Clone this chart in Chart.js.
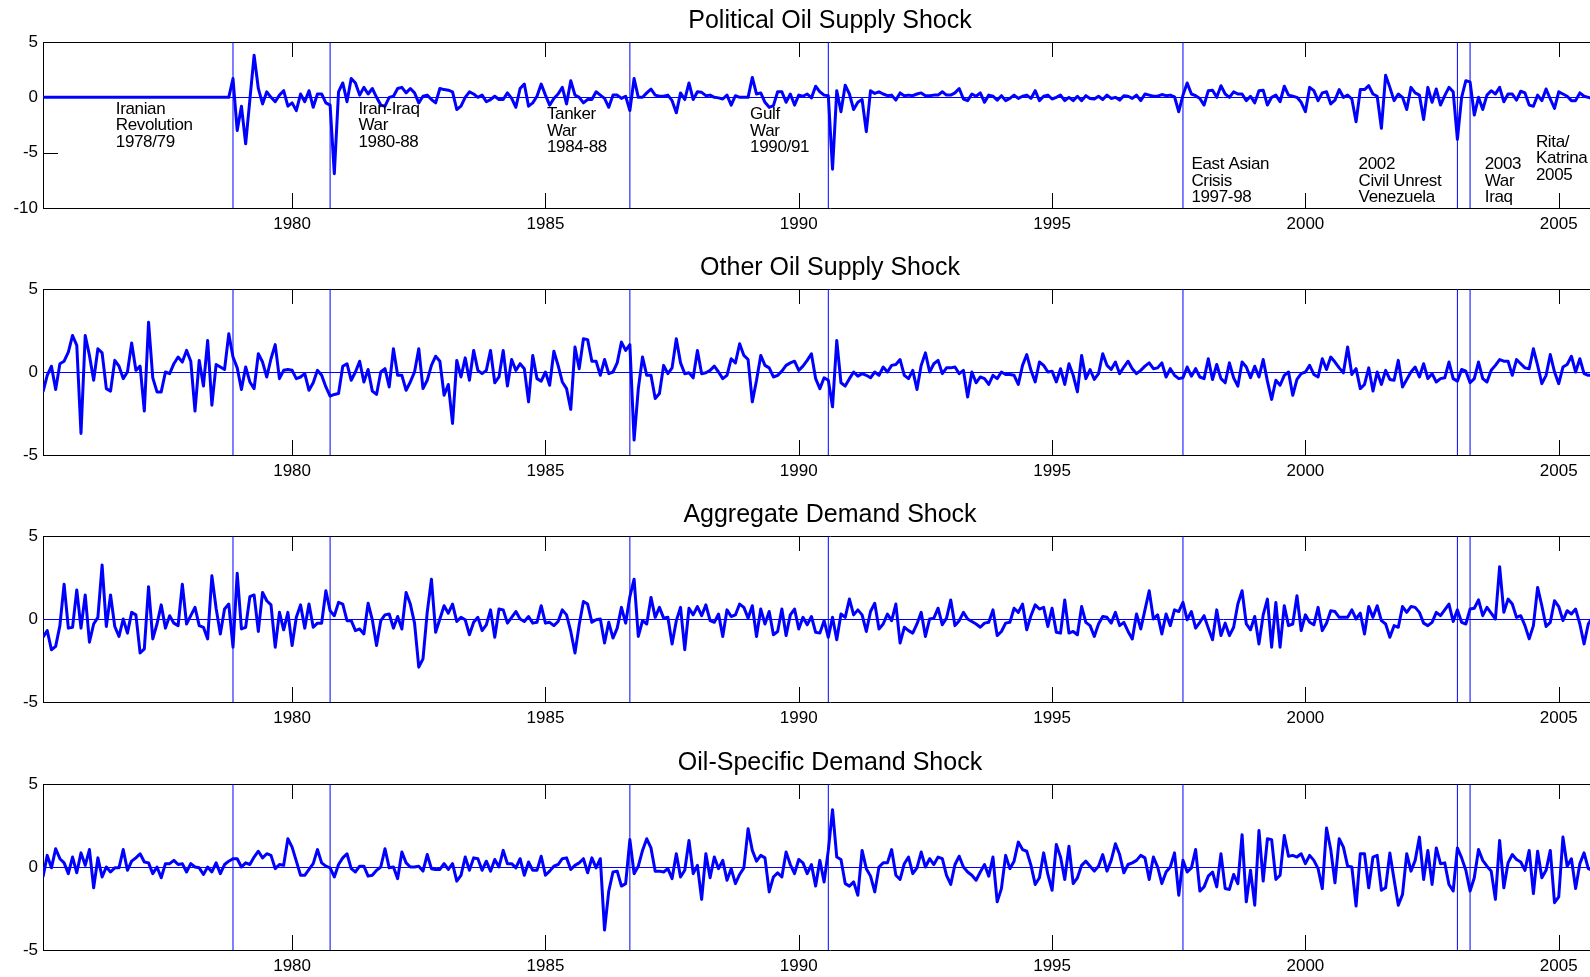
<!DOCTYPE html>
<html>
<head>
<meta charset="utf-8">
<script src="https://cdn.jsdelivr.net/npm/chart.js@4.4.1/dist/chart.umd.min.js"></script>
<style>
  html, body { margin: 0; padding: 0; background: #fff; overflow: hidden; width: 1590px; height: 977px; }
  #wrap { position: relative; width: 1590px; height: 977px; overflow: hidden; }
  #wrap canvas { position: absolute; left: 0; }
</style>
</head>
<body>
<div id="wrap">
  <canvas id="p0" width="1660" height="247" style="top:0px"></canvas>
  <canvas id="p1" width="1660" height="247" style="top:247px"></canvas>
  <canvas id="p2" width="1660" height="247" style="top:494px"></canvas>
  <canvas id="p3" width="1660" height="247" style="top:742px"></canvas>
</div>
<script>
// Monthly structural shocks, first observation February 1975 (one row per calendar year)
const firstYear = 1975;
const firstMonth = 2;

const political = [
  0, 0, 0, 0, 0, 0, 0, 0, 0, 0, 0,
  0, 0, 0, 0, 0, 0, 0, 0, 0, 0, 0, 0,
  0, 0, 0, 0, 0, 0, 0, 0, 0, 0, 0, 0,
  0, 0, 0, 0, 0, 0, 0, 0, 0, 0, 1.7, -3.0,
  -0.8, -4.2, -0.2, 3.8, 0.8, -0.6, 0.5, 0, -0.4, 0.2, 0.6, -0.8,
  -0.5, -1.2, 0.3, -0.4, 0.6, -0.9, 0.3, 0.3, -0.5, -0.7, -6.9, 0.5,
  1.3, -0.4, 1.7, 1.3, 0.2, 0.9, 0.3, 0.8, 0, -0.7, -0.8, 0,
  0.1, 0.8, 0.9, 0.4, 0.8, 0.4, -0.5, 0.1, 0.2, -0.2, -0.5, 0.8,
  0.7, 0.65, 0.5, -1.1, -0.8, 0, 0.5, 0.3, 0, 0.2, -0.4, -0.2,
  0.1, -0.2, -0.2, 0.4, -0.1, -0.9, 0.8, 1.2, -0.8, -0.5, 0.1, 1.2,
  0.2, -0.7, -0.1, 0.3, 0.9, -0.6, 1.5, 0.2, 0, -0.5, -0.2, -0.2,
  0.5, 0.2, -0.1, -0.9, 0.2, 0.2, -0.1, 0.1, -1.2, 1.7, 0, 0,
  0.4, 0.75, 0.2, 0.1, 0.1, 0.2, -0.3, -1.4, 0.4, -0.2, 1.3, -0.2,
  0.5, 0.45, 0.15, 0.2, 0, -0.05, -0.15, 0.2, -0.7, 0.15, 0, 0,
  0, 1.8, 0.3, 0.4, -0.45, -0.9, -0.75, 0.5, 0.5, -0.45, 0.3, -0.7,
  0.2, 0.1, 0.3, -0.05, 1.0, 0.5, 0.2, 0.15, -6.5, 0.6, -1.3, 1.1,
  0.3, -1.1, -0.45, -0.2, -3.1, 0.6, 0.35, 0.5, 0.3, 0.15, 0.2, -0.25,
  0.4, 0.15, 0.2, 0.15, 0.3, 0.4, 0.15, 0.15, 0.2, 0.2, 0.5, 0.2,
  0.2, 0.4, 0.8, -0.15, -0.3, 0.3, 0.1, 0.4, -0.45, 0.2, 0.1, -0.25,
  0.15, -0.3, -0.1, 0.2, -0.1, 0.1, 0.2, -0.1, 0.6, -0.3, 0.1, 0.2,
  -0.15, 0, 0.2, -0.3, 0, -0.3, 0.1, -0.3, 0.15, -0.1, -0.15, 0.1,
  -0.2, 0.2, -0.1, 0, -0.25, 0.15, 0.1, -0.1, 0.2, -0.3, 0.3, 0.2,
  0.1, 0.1, 0.25, 0.15, 0.2, 0.05, -1.3, 0.2, 1.3, 0.3, 0.15, -0.1,
  -0.7, 0.6, 0.65, 0, 1.05, 0.3, 0, 0.5, 0.3, 0.3, -0.3, 0.1,
  -0.5, 0.6, 0.65, -0.7, 0, 0.2, -0.4, 1.0, 0.2, 0.1, 0, -0.45,
  -1.3, 0.9, 0.6, -0.3, 0.4, 0.5, -0.6, -0.25, 0.7, 0, 0.2, -0.15,
  -2.2, 0.7, 0.7, 1.05, 0.3, 0.1, -2.8, 2.0, 0.9, -0.3, 0.3, 0,
  -1.1, 0.9, 0.4, 0.2, -2.0, 0.9, -0.45, 0.75, -0.7, 0.15, 0.9, 0.5,
  -3.8, 0, 1.5, 1.4, -1.6, 0, -1.1, 0.2, 0.6, 0.3, 0.9, -0.4,
  0.3, 0.3, -0.25, 0.55, 0.4, -0.7, -0.8, 0.2, -0.3, 0.75, -0.15, -1.0,
  0.5, 0.3, 0.1, -0.3, -0.3, 0.4, 0.1, 0, -0.1
];

const otherSupply = [
  -1.2, -0.2, 0.35, -1.05, 0.5, 0.65, 1.2, 2.2, 1.6, -3.7, 2.2,
  1.0, -0.5, 1.4, 1.15, -1.0, -1.15, 0.7, 0.35, -0.4, 0, 1.75, 0.1,
  0.35, -2.35, 3.0, -0.35, -1.2, -1.2, 0, -0.1, 0.5, 0.9, 0.6, 1.3,
  0.65, -2.35, 0.7, -0.85, 1.9, -2.0, 0.45, 0.3, 0.15, 2.3, 0.9, 0.25,
  -1.05, 0.3, -0.6, -1.0, 1.1, 0.6, -0.3, 0.8, 1.65, -0.4, 0.1, 0.15,
  0.1, -0.4, -0.3, -0.1, -1.1, -0.65, 0.1, -0.2, -0.9, -1.45, -1.35, -1.3,
  0.35, 0.5, -0.5, 0, 0.65, -0.6, 0.15, -1.15, -1.35, 0, 0.2, -0.9,
  1.4, -0.2, -0.2, -1.1, -0.6, 0, 1.4, -1.0, -0.5, 0.4, 0.95, 0.65,
  -1.4, -0.75, -3.1, 0.7, -0.3, 0.85, -0.5, 1.3, 0.1, -0.1, 0.1, 1.3,
  -0.65, -0.3, 1.3, -0.85, 0.75, 0.1, 0.5, 0.2, -1.8, 1.0, -0.4, -0.55,
  0, -0.8, 1.25, 0.4, -0.6, -1.0, -2.25, 1.5, 0.2, 2.0, 1.95, 0.65,
  0.65, -0.2, 0.75, -0.1, 0, 0.55, 1.8, 1.3, 1.65, -4.1, -1.0, 0.9,
  -0.2, -0.2, -1.6, -1.3, 0.4, -0.1, 0.25, 2.0, 0.55, -0.1, -0.05, -0.35,
  1.3, -0.1, -0.05, 0.1, 0.35, 0, -0.4, -0.2, 0.8, 0.55, 1.7, 1.0,
  0.75, -1.8, -0.5, 1.0, 0.4, 0.25, -0.3, -0.2, 0.05, 0.4, 0.55, 0.65,
  0.1, 0.35, 0.7, 1.1, -0.4, -1.0, -0.35, -0.5, -2.1, 1.9, -0.65, -0.85,
  -0.4, 0, -0.25, -0.1, -0.2, -0.35, 0, -0.2, 0.3, 0, 0.4, 0.45,
  0.75, -0.2, -0.4, 0.1, -1.05, 0.4, 1.15, 0, 0.5, 0.7, -0.1, 0.25,
  0.25, 0.3, -0.1, 0.1, -1.5, 0, -0.65, -0.3, -0.4, -0.75, -0.2, -0.4,
  0, -0.15, -0.15, -0.2, -0.75, 0.4, 1.05, 0.1, -0.6, 0.6, 0.4, 0,
  0.05, -0.6, 0.2, -0.75, 0.5, -0.2, -1.2, 1.0, -0.4, 0.15, -0.45, -0.1,
  1.1, 0.4, 0.15, 0.6, -0.1, 0.3, 0.65, 0.2, -0.1, 0.1, 0.35, 0.55,
  0.2, 0.25, 0.55, -0.3, 0.2, -0.2, -0.4, -0.35, 0.3, -0.25, 0.2, -0.3,
  -0.4, 0.8, -0.45, 0.45, -0.4, -0.65, 0.55, -0.35, -0.85, 0.6, 0.3, -0.35,
  0.35, -0.3, 0.75, -0.55, -1.65, -0.5, -0.8, -0.2, 0, -1.4, -0.45, -0.1,
  0, 0.4, -0.15, -0.3, 0.8, 0.15, 0.9, 0.6, 0.25, -0.05, 1.5, -0.15,
  0.2, -1.0, -0.75, 0.25, -1.15, 0, -0.75, 0.1, -0.45, -0.5, 0.7, -0.9,
  -0.45, 0, 0.3, -0.3, 0.5, -0.4, -0.1, -0.6, -0.4, -0.35, 0.6, -0.4,
  -0.55, 0.15, 0.05, -0.65, -0.4, 0.6, -0.4, -0.6, 0.1, 0.4, 0.75, 0.65,
  0.65, -0.2, 0.75, 0.5, 0.25, 0.2, 1.4, 0.4, -0.7, -0.2, 1.05, 0,
  -0.7, 0.3, 0.45, 0.95, 0, 0.8, -0.1, -0.2, -0.2
];

const aggregateDemand = [
  -1.1, -0.7, -1.85, -1.65, -0.4, 2.1, -0.55, -0.5, 1.75, -0.55, 1.45,
  -1.4, -0.3, 0.1, 3.25, -0.45, 1.45, -0.45, -1.05, 0, -0.85, 0.4, 0.25,
  -2.05, -1.8, 1.95, -1.2, -0.3, 0.85, -0.55, 0.2, -0.25, -0.4, 2.1, -0.3,
  0.2, 0.7, -0.4, -0.5, -1.2, 2.6, 0.65, -0.9, 0.6, 0.9, -1.7, 2.75,
  -0.6, -0.5, 1.35, 1.45, -0.75, 1.6, 1.1, 0.85, -1.7, 0.4, -0.65, 0.4,
  -1.6, 0.1, 0.85, -0.55, 0.9, -0.5, -0.25, -0.25, 1.7, 0.5, 0.2, 1.0,
  0.9, -0.1, -0.1, -0.7, -0.6, -0.9, 0.95, -0.05, -1.6, -0.1, 0.25, 0.3,
  -0.55, 0.15, -0.6, 1.6, 0.9, -0.25, -2.9, -2.4, 0.4, 2.4, -0.8, 0,
  0.8, 0.35, 0.9, -0.15, 0.1, -0.05, -0.95, -0.2, 0.1, -0.7, -0.35, 0.55,
  -1.1, 0.6, 0.55, -0.25, 0.1, 0.45, 0, -0.15, 0.15, -0.25, -0.2, 0.8,
  -0.25, -0.2, -0.4, -0.15, 0.55, 0.25, -0.75, -2.05, -0.35, 1.05, 0.9, -0.2,
  -0.05, 0, -1.45, -0.2, -1.15, -0.55, 0.7, -0.25, 1.35, 2.4, -1.05, -0.1,
  -0.3, 1.3, 0.1, 0.7, 0.05, 0.1, -1.5, -0.1, 0.7, -1.85, 0.65, 0.25,
  0.75, 0.2, 0.85, -0.1, -0.2, 0.3, -1.05, 0.55, 0.15, 0.25, 0.9, 0.7,
  0.05, 0.8, -1.05, 0.6, -0.3, 0.45, -0.95, -0.75, 0.6, -1.0, 0.25, 0.6,
  -0.6, 0.1, -0.35, 0.15, -0.8, -0.85, -0.1, -1.1, 0.1, -1.25, 0.3, 0.1,
  1.2, 0.25, 0.55, 0.25, -0.75, 0.45, 0.95, -0.6, -0.3, 0.3, -0.1, 0.9,
  -1.45, -0.5, -0.7, -0.85, -0.3, 0.4, -1.05, 0, 0.05, 0.65, -0.35, 0.05,
  1.15, -0.4, -0.1, 0.4, 0, -0.15, -0.3, -0.5, -0.25, -0.2, 0.55, -1.0,
  -0.75, -0.25, -0.2, 0.65, 0.4, 0.9, -0.65, 0.2, 0.85, 0.6, 0.7, -0.45,
  0.65, -0.8, -0.85, 1.15, -0.85, -0.75, -0.95, 0.75, -0.2, -0.4, -1.05, -0.3,
  0.15, 0.1, -0.25, 0.4, -0.4, -0.2, -0.75, -1.2, 0.3, -0.6, 0.55, 1.7,
  0, 0.25, -0.9, 0.3, -0.4, 0.55, 0.45, 1.0, -0.05, 0.45, -0.55, -0.2,
  0.2, -0.55, -1.25, 0.55, -1.0, -0.25, -1.0, -0.5, 0.9, 1.7, -0.3, -0.65,
  0.15, -1.5, 0.25, 1.2, -1.7, 1.0, -1.7, 0.8, -0.4, -0.3, 1.4, -0.7,
  0.25, -0.2, -0.35, 0.7, -0.7, -0.25, 0.5, 0.45, 0.1, 0.1, 0.1, 0.55,
  0, 0.35, -0.9, 0.75, 0.1, 0.8, -0.1, -0.3, -1.1, -0.4, -0.5, 0.75,
  0.4, 0.75, 0.7, 0.4, -0.25, -0.4, -0.2, 0.4, 0.2, 0.55, 0.9, -0.15,
  0.55, -0.2, -0.3, 0.6, 0.65, 1.15, 0.2, 0.7, 0.35, 0, 3.15, 0.4,
  1.2, 0.9, 0.1, 0.2, -0.4, -1.2, -0.4, 1.9, 0.8, -0.45, -0.2, 1.1,
  0.75, -0.1, 0.5, 0.3, 0.6, -0.3, -1.5, -0.3, 0.1
];

const oilSpecificDemand = [
  -0.6, 0.7, -0.05, 1.1, 0.5, 0.25, -0.4, 0.6, -0.35, 0.85, 0.1,
  1.05, -1.25, 0.55, -0.6, 0, -0.3, -0.05, -0.05, 1.05, -0.2, 0.35, 0.55,
  0.8, 0.3, 0.25, -0.4, 0, -0.65, 0.2, 0.2, 0.4, 0.15, 0.2, -0.3,
  0.2, 0, -0.05, -0.45, 0, -0.3, 0.25, -0.4, 0.15, 0.35, 0.5, 0.5,
  0, 0.25, 0.15, 0.6, 0.95, 0.55, 0.8, 0.7, -0.1, 0.15, 0.1, 1.7,
  1.2, 0.35, -0.5, -0.5, -0.15, 0.2, 1.05, 0.25, 0.05, -0.05, -0.6, 0.15,
  0.55, 0.8, -0.1, -0.3, 0.05, 0.05, -0.55, -0.5, -0.2, 0, 1.1, -0.05,
  0, -0.7, 0.9, 0.25, 0, 0, 0.05, -0.25, 0.75, -0.1, -0.15, -0.15,
  0.2, -0.15, 0.2, -0.85, -0.5, 0.6, -0.2, 0.55, 0.5, -0.2, 0.35, -0.25,
  0.45, 0, 1.0, 0.2, 0.2, -0.05, 0.5, -0.5, 0.3, -0.2, -0.2, 0.65,
  -0.5, -0.25, 0.05, 0.15, 0.5, 0.55, -0.15, 0.1, 0.25, 0.5, -0.35, 0.55,
  -0.05, 0.5, -3.8, -1.45, -0.3, -0.25, -1.15, -1.0, 1.65, -0.4, 0.05, 1.0,
  1.7, 1.15, -0.25, -0.25, -0.3, -0.1, -0.7, 0.8, -0.6, -0.2, 1.6, -0.4,
  0.1, -1.95, 0.8, -0.65, 0.6, -0.1, 0.4, -0.8, -0.1, -1.0, -0.45, -0.05,
  2.3, 1.0, 0.35, 0.7, 0.55, -1.5, -0.6, -0.35, -0.6, 0.9, 0.15, -0.4,
  0.45, 0.25, -0.4, 0.15, -1.15, 0.4, -0.9, 1.0, 3.45, 0.6, 0.45, -1.0,
  -1.15, -0.9, -1.7, 1.0, -0.1, -0.55, -1.5, 0, 0.25, 0.25, 1.05, -0.5,
  -0.75, 0.2, 0.6, -0.4, -0.05, 0.9, 0, 0.5, 0.15, 0.6, 0.5, -0.5,
  -1.05, 0.15, 0.65, 0, -0.3, -0.5, -0.8, -0.3, 0.15, -0.55, 0.6, -2.1,
  -1.3, 0.7, -0.1, 0.35, 1.5, 1.05, 0.95, 0.1, -1.05, -0.65, 0.85, -0.45,
  -1.4, 1.35, 0.6, -0.75, 1.25, -1.0, -0.65, 0.1, 0.35, 0.05, -0.25, 0.05,
  0.75, -0.25, 0.4, 1.4, 0.75, -0.35, 0.15, 0.25, 0.4, 0.7, 0.55, -0.75,
  0.6, 0, -1.0, -0.3, 0, 0.85, -1.7, 0.4, -0.3, -0.05, 1.05, -1.45,
  -1.2, -0.55, -0.3, -1.2, 0.8, -1.3, -1.35, -0.45, -1.0, 1.95, -2.1, -0.2,
  -2.3, 2.2, -0.85, 1.7, 1.65, -0.75, -0.5, 1.9, 0.65, 0.7, 0.6, 0.8,
  0.2, 0.7, 0.4, -0.1, -1.3, 2.35, 1.05, -0.95, 1.7, 1.2, 0.05, 0,
  -2.35, 0.8, 0.8, -1.25, 0.6, 0.7, -1.4, -1.25, 0.85, -0.75, -2.3, -1.65,
  0.8, -0.25, 0.4, 1.8, -0.75, 1.0, -1.05, 1.15, 0.2, 0.25, -1.05, -1.45,
  1.15, 0.55, -0.2, -1.45, -0.65, 1.05, 0.4, 0.05, -0.25, -1.95, 1.6, -1.25,
  0.25, 0.75, 0.45, 0.3, -0.2, 1.0, -1.6, 0.95, -0.65, -0.2, 1.0, -2.15,
  -1.8, 1.8, 0.05, 0.5, -1.3, 0.2, 0.85, -0.1, -0.2
];

// Year ticks on the time axis and value ticks on the vertical axes
const yearTicks = [1980, 1985, 1990, 1995, 2000, 2005];
const wideTicks = [-10, -5, 0, 5];
const narrowTicks = [-5, 0, 5];

// Event months marked with vertical lines: [year, month]
const eventMonths = [[1978, 11], [1980, 10], [1986, 9], [1990, 8], [1997, 8], [2003, 1], [2003, 4], [2005, 9]];

// Event labels: three-line captions
const eventLabels = [
  ['Iranian', 'Revolution', '1978/79'],
  ['Iran-Iraq', 'War', '1980-88'],
  ['Tanker', 'War', '1984-88'],
  ['Gulf', 'War', '1990/91'],
  ['East Asian', 'Crisis', '1997-98'],
  ['2002', 'Civil Unrest', 'Venezuela'],
  ['2003', 'War', 'Iraq'],
  ['Rita/', 'Katrina', '2005']
];
// Where each caption sits (year of left edge, value of first baseline)
const labelAnchors = [
  [1976.52, -1.5], [1981.31, -1.5], [1985.03, -2.0], [1989.04, -2.0],
  [1997.75, -6.5], [2001.05, -6.5], [2003.54, -6.5], [2004.55, -4.45]
];

const FONT = '"Liberation Sans", Arial, Helvetica, sans-serif';
const BLUE = '#0000ff';
const TICK_LEN = 15;

function toDecimalYear(year, month) { return year + (month - 1) / 12; }

function seriesPoints(values) {
  return values.map((v, i) => ({ x: toDecimalYear(firstYear, firstMonth) + i / 12, y: v }));
}

const axisFrame = {
  id: 'axisFrame',
  beforeDatasetsDraw(chart) {
    const { ctx, chartArea: a, scales: { x, y } } = chart;
    const opts = chart.options.plugins.axisFrame;
    ctx.save();
    // inward tick marks
    ctx.strokeStyle = '#000';
    ctx.lineWidth = 1;
    ctx.beginPath();
    yearTicks.forEach(v => {
      const px = Math.round(x.getPixelForValue(v)) + 0.5;
      ctx.moveTo(px, a.top); ctx.lineTo(px, a.top + TICK_LEN);
      ctx.moveTo(px, a.bottom); ctx.lineTo(px, a.bottom - TICK_LEN);
    });
    opts.yTicks.forEach(v => {
      const py = Math.round(y.getPixelForValue(v)) + 0.5;
      ctx.moveTo(a.left, py); ctx.lineTo(a.left + TICK_LEN, py);
      ctx.moveTo(a.right, py); ctx.lineTo(a.right - TICK_LEN, py);
    });
    ctx.stroke();
    // box
    ctx.beginPath();
    ctx.rect(Math.round(a.left) + 0.5, Math.round(a.top) + 0.5,
             Math.round(a.right - a.left), Math.round(a.bottom - a.top));
    ctx.stroke();
    // event lines
    ctx.strokeStyle = BLUE;
    ctx.lineWidth = 1;
    ctx.beginPath();
    eventMonths.forEach(([yr, m]) => {
      const px = x.getPixelForValue(toDecimalYear(yr, m));
      ctx.moveTo(px, a.top); ctx.lineTo(px, a.bottom);
    });
    // zero line
    const zy = Math.round(y.getPixelForValue(0)) + 0.5;
    ctx.moveTo(a.left, zy); ctx.lineTo(a.right, zy);
    ctx.stroke();
    ctx.restore();
  },
  afterDraw(chart) {
    const { ctx, chartArea: a, scales: { x, y } } = chart;
    const opts = chart.options.plugins.axisFrame;
    ctx.save();
    ctx.fillStyle = '#000';
    ctx.font = '25px ' + FONT;
    ctx.textAlign = 'center';
    ctx.textBaseline = 'alphabetic';
    ctx.fillText(opts.title, (a.left + a.right) / 2, a.top - 14);
    if (opts.captions) {
      ctx.font = '17px ' + FONT;
      ctx.textAlign = 'left';
      if ('letterSpacing' in ctx) ctx.letterSpacing = '-0.35px';
      eventLabels.forEach((lines, k) => {
        const [lx, ly] = labelAnchors[k];
        const px = x.getPixelForValue(lx);
        const py = y.getPixelForValue(ly);
        lines.forEach((t, j) => ctx.fillText(t, px, py + j * 16.5));
      });
    }
    ctx.restore();
  }
};

const panels = [
  { id: 'p0', title: 'Political Oil Supply Shock', values: political, min: -10, max: 5, ticks: wideTicks, captions: true },
  { id: 'p1', title: 'Other Oil Supply Shock', values: otherSupply, min: -5, max: 5, ticks: narrowTicks, captions: false },
  { id: 'p2', title: 'Aggregate Demand Shock', values: aggregateDemand, min: -5, max: 5, ticks: narrowTicks, captions: false },
  { id: 'p3', title: 'Oil-Specific Demand Shock', values: oilSpecificDemand, min: -5, max: 5, ticks: narrowTicks, captions: false }
];

panels.forEach(p => {
  new Chart(document.getElementById(p.id), {
    type: 'line',
    data: {
      datasets: [{
        data: seriesPoints(p.values),
        borderColor: BLUE,
        borderWidth: 3,
        borderJoinStyle: 'round',
        pointRadius: 0,
        tension: 0,
        fill: false
      }]
    },
    options: {
      responsive: false,
      animation: false,
      devicePixelRatio: 1,
      events: [],
      layout: { padding: { top: 42, right: 43, bottom: 0, left: 0 } },
      plugins: {
        legend: { display: false },
        tooltip: { enabled: false },
        axisFrame: { title: p.title, yTicks: p.ticks, captions: p.captions }
      },
      scales: {
        x: {
          type: 'linear',
          min: toDecimalYear(firstYear, firstMonth),
          max: 2006.15,
          afterBuildTicks: s => { s.ticks = yearTicks.map(v => ({ value: v })); },
          afterFit: s => { s.height = 39; },
          grid: { display: false, drawTicks: false },
          border: { display: false },
          ticks: { padding: 6, color: '#000', font: { family: FONT, size: 17 }, maxRotation: 0, autoSkip: false,
                   callback: v => String(v) }
        },
        y: {
          min: p.min,
          max: p.max,
          afterBuildTicks: s => { s.ticks = p.ticks.map(v => ({ value: v })); },
          afterFit: s => { s.width = 43; },
          grid: { display: false, drawTicks: false },
          border: { display: false },
          ticks: { padding: 5, color: '#000', font: { family: FONT, size: 17 }, callback: v => String(v) }
        }
      }
    },
    plugins: [axisFrame]
  });
});
</script>
</body>
</html>
